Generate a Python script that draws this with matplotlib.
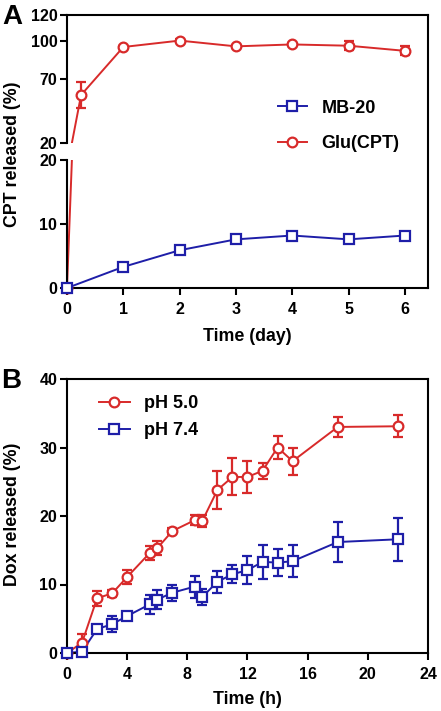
import matplotlib
matplotlib.use("Agg")
import matplotlib.pyplot as plt
from matplotlib.lines import Line2D
import numpy as np

plt.rcParams['font.family'] = ['Liberation Sans', 'DejaVu Sans']
plt.rcParams['font.weight'] = 'bold'
plt.rcParams['axes.linewidth'] = 1.5

red = '#D82A2A'
blue = '#1E1EA8'

# panel A: CPT release (days)
day_mb = [0, 1, 2, 3, 4, 5, 6]
mb20 = [0, 3.3, 5.9, 7.6, 8.2, 7.6, 8.2]
mb20_err = [0, 0.3, 0.3, 0.3, 0.3, 0.3, 0.3]

day_glu = [0, 0.25, 1, 2, 3, 4, 5, 6]
glu = [0, 57.5, 95, 100, 95.5, 97, 96, 92]
glu_err = [0, 10.5, 1.0, 1.0, 1.0, 1.0, 3.5, 3.5]

# panel B: Dox release (hours)
hours = [0, 1, 2, 3, 4, 5.5, 6, 7, 8.5, 9, 10, 11, 12, 13, 14, 15, 18, 22]
ph5 = [0, 1.5, 8.0, 8.7, 11.1, 14.6, 15.3, 17.8, 19.4, 19.3, 23.8, 25.7, 25.7, 26.6, 30.0, 28.0, 33.0, 33.1]
ph5_err = [0, 1.3, 1.1, 0.5, 1.0, 1.0, 1.0, 0.4, 0.7, 0.9, 2.8, 2.7, 2.4, 1.2, 1.7, 2.0, 1.5, 1.6]
ph7 = [0, 0.2, 3.5, 4.2, 5.4, 7.1, 7.8, 8.8, 9.7, 8.2, 10.4, 11.5, 12.1, 13.3, 13.2, 13.4, 16.2, 16.6]
ph7_err = [0, 0.3, 0.5, 1.2, 0.6, 1.4, 1.4, 1.2, 1.6, 1.2, 1.6, 1.3, 2.0, 2.5, 2.0, 2.3, 2.9, 3.1]

W, H = 441, 711
fig = plt.figure(figsize=(W / 100, H / 100), dpi=100)


def box(top, bottom, left=67, right=428):
    return [left / W, 1 - bottom / H, (right - left) / W, (bottom - top) / H]


def series(ax, x, y, err, color, marker, ms, lo=-1e9, hi=1e9):
    x, y, err = np.asarray(x), np.asarray(y), np.asarray(err)
    ax.plot(x, y, color=color, lw=1.4, zorder=2)
    m = (y >= lo) & (y <= hi)
    c = ax.errorbar(x[m], y[m], yerr=err[m], fmt=marker, ms=ms, mfc='white', mec=color,
                    mew=1.6, ecolor=color, elinewidth=1.6, capsize=3.5, capthick=1.6, zorder=3)
    for a in c.get_children():
        a.set_clip_on(False)


def style(ax):
    ax.tick_params(direction='out', length=5, width=1.5, labelsize=11.5)
    ax.tick_params(axis='y', pad=2)
    ax.tick_params(axis='x', pad=5)
    for lab in ax.get_xticklabels() + ax.get_yticklabels():
        lab.set_fontweight('bold')


# ---- panel A (broken y axis) ----
axt = fig.add_axes(box(15, 143))
axb = fig.add_axes(box(160, 288))

for ax in (axt, axb):
    ax.set_xlim(0, 6.41)
    series(ax, day_glu, glu, glu_err, red, 'o', 7,
           lo=20 if ax is axt else -1, hi=120 if ax is axt else 20)
    series(ax, day_mb, mb20, mb20_err, blue, 's', 6.5,
           lo=20 if ax is axt else -1, hi=120 if ax is axt else 20)

axt.set_ylim(20, 120)
axt.set_yticks([20, 70, 100, 120])
axt.spines['bottom'].set_visible(False)
axt.spines['right'].set_visible(False)
axt.set_xticks([])
axb.set_ylim(0, 20)
axb.set_yticks([0, 10, 20])
axb.spines['top'].set_visible(False)
axb.spines['right'].set_visible(False)
axb.set_xticks(day_mb)
style(axt)
style(axb)
axb.set_xlabel('Time (day)', fontsize=12.8, fontweight='bold', labelpad=8)

# right spine runs across the break
fig.add_artist(Line2D([428 / W, 428 / W], [1 - 15 / H, 1 - 288 / H], color='black', lw=1.5))

fig.text(13 / W, 1 - 154 / H, 'CPT released (%)', rotation=90, ha='center', va='center',
         fontsize=12.8, fontweight='bold')
fig.text(12 / W, 1 - 17 / H, 'A', ha='center', va='center', fontsize=20, fontweight='bold')

hA = [Line2D([], [], color=blue, marker='s', ms=6.5, mfc='white', mec=blue, mew=1.6, lw=1.4),
      Line2D([], [], color=red, marker='o', ms=7, mfc='white', mec=red, mew=1.6, lw=1.4)]
fig.legend(hA, ['MB-20', 'Glu(CPT)'], loc='center left', bbox_to_anchor=(278 / W, 1 - 126 / H),
           frameon=False, borderpad=0, borderaxespad=0, handlelength=1.6, handletextpad=0.8,
           labelspacing=1.05, prop={'size': 13, 'weight': 'bold'})

# ---- panel B ----
axB = fig.add_axes(box(379, 653))
series(axB, hours, ph5, ph5_err, red, 'o', 7)
series(axB, hours, ph7, ph7_err, blue, 's', 6.5)
axB.set_xlim(0, 24)
axB.set_ylim(0, 40)
axB.set_xticks(range(0, 25, 4))
axB.set_yticks([0, 10, 20, 30, 40])
style(axB)
axB.set_xlabel('Time (h)', fontsize=12.8, fontweight='bold', labelpad=6.5)
fig.text(13 / W, 1 - 514 / H, 'Dox released (%)', rotation=90, ha='center', va='center',
         fontsize=12.8, fontweight='bold')
fig.text(11 / W, 1 - 381 / H, 'B', ha='center', va='center', fontsize=20, fontweight='bold')

hB = [Line2D([], [], color=red, marker='o', ms=7, mfc='white', mec=red, mew=1.6, lw=1.4),
      Line2D([], [], color=blue, marker='s', ms=6.5, mfc='white', mec=blue, mew=1.6, lw=1.4)]
fig.legend(hB, ['pH 5.0', 'pH 7.4'], loc='center left', bbox_to_anchor=(99 / W, 1 - 417 / H),
           frameon=False, borderpad=0, borderaxespad=0, handlelength=1.7, handletextpad=0.8,
           labelspacing=0.55, prop={'size': 13, 'weight': 'bold'})

fig.savefig('out.png', dpi=100)
